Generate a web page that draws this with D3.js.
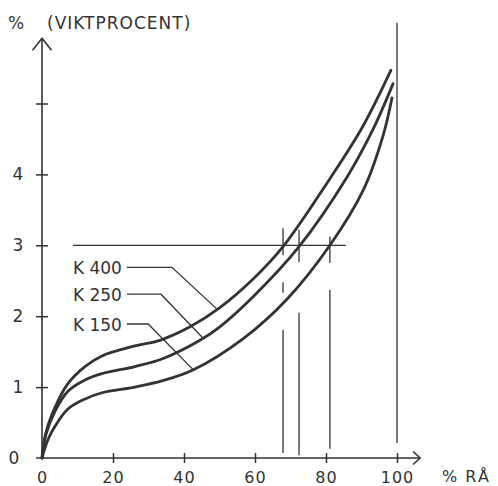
<!DOCTYPE html>
<html lang="sv">
<head>
<meta charset="UTF-8" />
<title>Viktprocent</title>
<style>
  html, body { margin: 0; background: #fff; }
  svg text { font-family: "DejaVu Sans", sans-serif; fill: #333; }
  .ax { stroke: #333; stroke-width: 1.6px; fill: none; }
  .curve { stroke: #333; stroke-width: 2.8px; fill: none; stroke-linecap: round; }
  .thin { stroke: #333; stroke-width: 1.3px; fill: none; }
</style>
</head>
<body>
<div id="chart"></div>
<script src="https://cdn.jsdelivr.net/npm/d3@7"></script>
<script>
// curves: [% RÅ, % viktprocent]
const k400 = [[0,0],[1.1,0.36],[3.7,0.72],[7.3,1.05],[12.1,1.29],[16.9,1.44],[26.2,1.58],[33.2,1.66],[41.7,1.85],[50.1,2.12],[59.4,2.52],[67.9,2.98],[81.1,3.94],[90.4,4.68],[98.3,5.47]];
const k250 = [[0,0],[1.1,0.33],[3.7,0.66],[7.3,0.94],[12.1,1.1],[16.9,1.19],[26.2,1.29],[34,1.4],[44.5,1.66],[50.1,1.85],[59.4,2.27],[72.4,2.98],[85.9,3.96],[93.2,4.63],[98.9,5.28]];
const k150 = [[0,0],[1.7,0.26],[3.7,0.45],[7.3,0.69],[12,0.83],[16.9,0.92],[26.2,1.0],[34,1.09],[42.5,1.24],[56.6,1.68],[69.2,2.25],[81.1,3.0],[90.7,3.8],[96.1,4.55],[98.6,5.08]];
const seriesNames = ["K 400", "K 250", "K 150"];

const xTicks = [0, 20, 40, 60, 80, 100];
const yTicks = [1, 2, 3, 4, 5];
const yTickLabels = ["1", "2", "3", "4", ""];

// 3 % reference line and where it meets each curve
const refLevel = 3;
const refRange = [8.7, 85.6];
const crossings = [67.9, 72.4, 81.1];
const dropSegments = [
  [[3.24, 2.86], [2.48, 2.33], [1.81, 0.07]],
  [[3.22, 2.76], [2.05, 0.04]],
  [[3.12, 2.75], [2.37, 0.13]]
];

// label leaders: text level, start, elbow and target on curve
const labelLevel = [2.69, 2.31, 1.89];
const labelStart = 8.7;
const leaderStart = 23.9;
const leaderElbow = [36.6, 33.5, 29.9];
const leaderTarget = [[49.3, 2.10], [45.4, 1.69], [42.5, 1.25]];

const width = 498, height = 486;

const svg = d3.select("#chart").append("svg")
  .attr("width", width).attr("height", height);

const x = d3.scaleLinear().domain([0, 100]).range([42, 397]);
const y = d3.scaleLinear().domain([0, 5]).range([458, 103.5]);

const line = d3.line().x(d => x(d[0])).y(d => y(d[1])).curve(d3.curveCatmullRom.alpha(0.5));

// axes
svg.append("line").attr("class", "ax")
  .attr("x1", x(-1.7)).attr("x2", x(106.5)).attr("y1", y(0)).attr("y2", y(0));
svg.append("path").attr("class", "ax")
  .attr("d", `M${x(106.5) - 7},${y(0) - 6.5}L${x(106.5)},${y(0)}L${x(106.5) - 7},${y(0) + 6.5}`);
svg.append("line").attr("class", "ax")
  .attr("x1", x(0)).attr("x2", x(0)).attr("y1", y(0)).attr("y2", y(5.92));
svg.append("path").attr("class", "ax")
  .attr("d", `M${x(0) - 9.5},${y(5.92) + 12}L${x(0)},${y(5.92)}L${x(0) + 9.5},${y(5.92) + 12}`);

const xAxis = svg.append("g")
  .attr("transform", `translate(0,${y(0)})`)
  .call(d3.axisBottom(x).tickValues(xTicks).tickFormat(d3.format("d")).tickSize(5).tickPadding(9));
xAxis.select(".domain").remove();
xAxis.selectAll(".tick line").attr("y1", -5).attr("y2", 5).attr("stroke", "#333").attr("stroke-width", 1.5)
  .filter(d => d === 0).remove();
xAxis.selectAll(".tick text").attr("font-size", 16).attr("font-family", null).attr("fill", null)
  .attr("letter-spacing", 1);

const yAxis = svg.append("g")
  .attr("transform", `translate(${x(0)},0)`)
  .call(d3.axisLeft(y).tickValues(yTicks).tickFormat((d, i) => yTickLabels[i]).tickSize(6).tickPadding(18));
yAxis.select(".domain").remove();
yAxis.selectAll(".tick line").attr("x1", -6).attr("x2", 6).attr("stroke", "#333").attr("stroke-width", 1.5);
yAxis.selectAll(".tick text").attr("font-size", 17).attr("font-family", null).attr("fill", null)
  .attr("text-anchor", "middle").attr("x", -24);

svg.append("text").attr("x", 14).attr("y", y(0)).attr("dy", "0.35em")
  .attr("text-anchor", "middle").attr("font-size", 17).text("0");

// titles
svg.append("text").attr("x", 8).attr("y", 29).attr("font-size", 17)
  .text("%").append("tspan").attr("x", 47).attr("letter-spacing", 1).text("(VIKTPROCENT)");
svg.append("text").attr("x", 442).attr("y", 482).attr("font-size", 16)
  .attr("letter-spacing", 1.5).text("% RÅ");

// 100 % boundary
svg.append("line").attr("class", "thin")
  .attr("x1", x(100)).attr("x2", x(100)).attr("y1", y(6.14)).attr("y2", y(0.21));

// reference line at 3 %
svg.append("line").attr("class", "thin")
  .attr("x1", x(refRange[0])).attr("x2", x(refRange[1]))
  .attr("y1", y(refLevel)).attr("y2", y(refLevel));

crossings.forEach((cx, i) => {
  svg.selectAll(null).data(dropSegments[i]).enter().append("line")
    .attr("class", "thin")
    .attr("x1", x(cx)).attr("x2", x(cx))
    .attr("y1", d => y(d[0])).attr("y2", d => y(d[1]));
});

// curves
svg.selectAll(".curve").data([k400, k250, k150]).enter().append("path")
  .attr("class", "curve").attr("d", line);

// labels with leader lines
seriesNames.forEach((name, i) => {
  svg.append("text").attr("x", x(labelStart)).attr("y", y(labelLevel[i]) + 7)
    .attr("font-size", 17).text(name);
  svg.append("path").attr("class", "thin")
    .attr("d", `M${x(leaderStart)},${y(labelLevel[i])}L${x(leaderElbow[i])},${y(labelLevel[i])}L${x(leaderTarget[i][0])},${y(leaderTarget[i][1])}`);
});
</script>
</body>
</html>
